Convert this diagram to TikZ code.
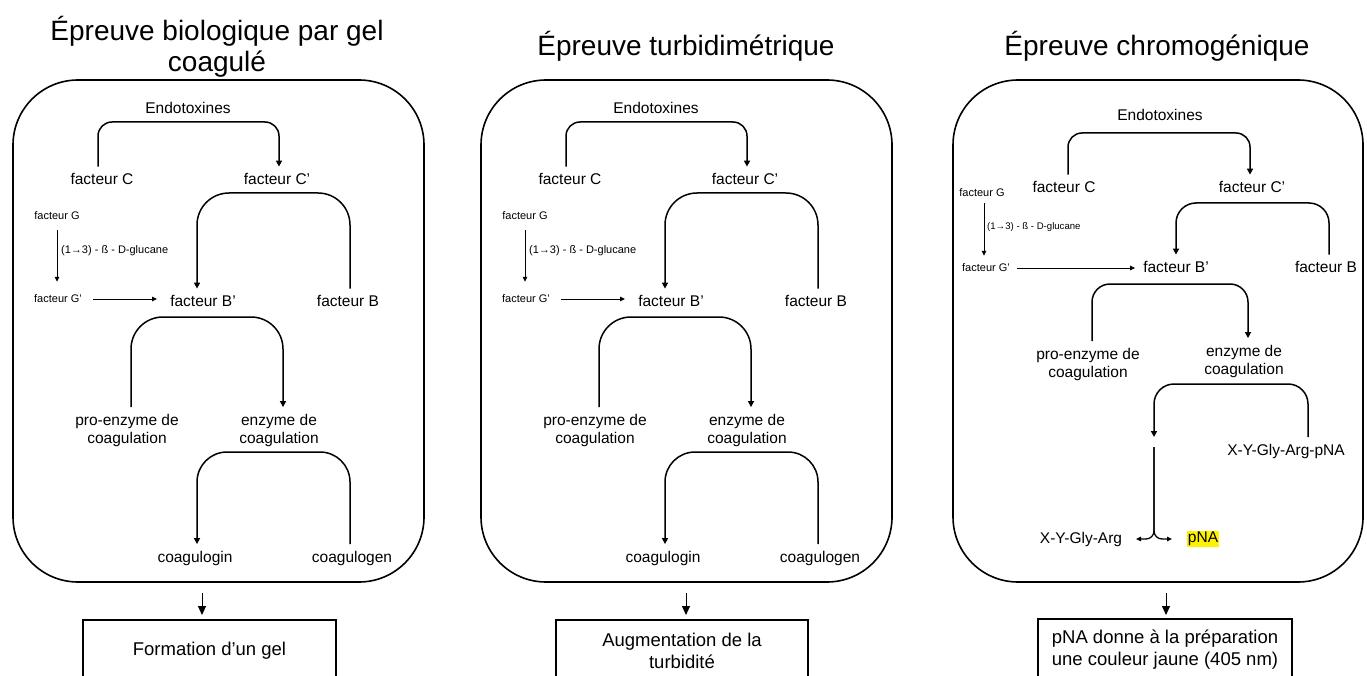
\documentclass[tikz,border=0pt]{standalone}
\usepackage{fontspec}
\setmainfont{Liberation Sans}
\usetikzlibrary{arrows.meta,calc}
\tikzset{
 lbl/.style={font=\fontsize{15.5}{18}\selectfont, inner xsep=2pt, inner ysep=6.5pt, align=center},
 slbl/.style={font=\fontsize{11}{13}\selectfont, inner sep=3pt},
 conn/.style={line width=1.5pt, -{Triangle[length=6pt,width=6pt]}},
 sconn/.style={line width=1.3pt, -{Triangle[length=5pt,width=4.5pt]}},
 plainln/.style={line width=1.5pt},
 thinarr/.style={line width=0.9pt, -{Triangle[length=5pt,width=4.5pt]}},
 pbox/.style={draw, line width=1.6pt, rounded corners=65pt, minimum width=411pt, minimum height=502pt, inner sep=0pt},
 res/.style={draw, line width=1.6pt, minimum width=253pt, minimum height=62pt, anchor=north, align=center, font=\fontsize{18.5}{22}\selectfont},
 ttl/.style={font=\fontsize{28}{31}\selectfont, align=center},
 darr/.style={line width=1pt, -{Triangle[length=9pt,width=8pt]}},
}
\newcommand\limpanel[2]{%
\begin{scope}[xshift=#2]
\node[pbox] (#1box) at (218.5,331) {};
\node[lbl] (#1endo) at (188,108) {Endotoxines};
\node[lbl] (#1C) at (102,179) {facteur C};
\node[lbl] (#1Cp) at (277,179) {facteur C’};
\coordinate (#1b1) at (188,122);
\draw[conn, rounded corners=14pt] ([xshift=-4pt]#1C.north) |- (#1b1) -| ([xshift=2pt]#1Cp.north);
\node[slbl] (#1G) at (57,216) {facteur G};
\node[slbl] (#1Gp) at (58,299) {facteur G’};
\node[slbl, anchor=west] (#1glu) at (58,251) {(1→3) - ß - D-glucane};
\draw[thinarr, shorten <=7pt, shorten >=10pt] (#1G.south) -- (#1G.south |- #1Gp.north);
\node[lbl] (#1Bp) at (203,301) {facteur B’};
\node[lbl] (#1B) at (348,301) {facteur B};
\draw[thinarr, shorten <=8pt, shorten >=11pt] (#1Gp.east) -- (#1Gp.east -| #1Bp.west);
\coordinate (#1b2) at (273,193);
\draw[conn, rounded corners=32pt] ([xshift=2pt]#1B.north) |- (#1b2) -| ([xshift=-6pt]#1Bp.north);
\node[lbl] (#1pro) at (127,430) {pro-enzyme de\\coagulation};
\node[lbl] (#1enz) at (279,430) {enzyme de\\coagulation};
\coordinate (#1b3) at (205,317);
\draw[conn, rounded corners=32pt] ([xshift=4pt]#1pro.north) |- (#1b3) -| ([xshift=4pt]#1enz.north);
\node[lbl] (#1gin) at (195,558) {coagulogin};
\node[lbl] (#1gen) at (352,558) {coagulogen};
\coordinate (#1b4) at (273,452);
\draw[conn, rounded corners=30pt] ([xshift=-2pt]#1gen.north) |- (#1b4) -| ([xshift=2pt]#1gin.north);
\end{scope}}
\begin{document}
\begin{tikzpicture}[x=1pt,y=-1pt]
\useasboundingbox (0,0) rectangle (1367,676);
\clip (0,0) rectangle (1367,676);
% titles
\node[ttl] (t1) at (217,47) {Épreuve biologique par gel\\coagulé};
\node[ttl] (t2) at (686,46) {Épreuve turbidimétrique};
\node[ttl] (t3) at (1157,46) {Épreuve chromogénique};
% panels 1 and 2
\limpanel{a}{0pt}
\limpanel{b}{468pt}
% panel 3
\node[pbox, minimum width=410pt] (cbox) at (1158,331) {};
\node[lbl] (cendo) at (1160,115) {Endotoxines};
\node[lbl] (cC) at (1064,187) {facteur C};
\node[lbl] (cCp) at (1252,187) {facteur C’};
\coordinate (cb1) at (1160,133);
\draw[conn, rounded corners=14pt] ([xshift=4pt]cC.north) |- (cb1) -| ([xshift=-2pt]cCp.north);
\node[slbl] (cG) at (982,193) {facteur G};
\node[slbl] (cGp) at (986,268) {facteur G’};
\node[slbl, anchor=west, font=\fontsize{9.6}{12}\selectfont] (cglu) at (984,227) {(1→3) - ß - D-glucane};
\coordinate (cGa) at ([xshift=2pt]cG.south);
\draw[thinarr, shorten <=3pt, shorten >=5pt] (cGa) -- (cGa |- cGp.north);
\node[lbl] (cBp) at (1176,267) {facteur B’};
\node[lbl] (cB) at (1326,267) {facteur B};
\draw[thinarr, shorten <=4pt, shorten >=6pt] (cGp.east) -- (cGp.east -| cBp.west);
\coordinate (cb2) at (1250,203);
\draw[conn, rounded corners=20pt] ([xshift=3pt]cB.north) |- (cb2) -| (cBp.north);
\node[lbl] (cpro) at (1088,364) {pro-enzyme de\\coagulation};
\node[lbl] (cenz) at (1244,361) {enzyme de\\coagulation};
\coordinate (cb3) at (1170,284);
\draw[conn, rounded corners=18pt] ([xshift=4pt]cpro.north) |- (cb3) -| ([xshift=4pt]cenz.north);
\node[lbl] (cxp) at (1286,451) {X-Y-Gly-Arg-pNA};
\coordinate (cj1) at (1154,437);
\coordinate (cj2) at (1154,447);
\coordinate (cb4) at (1231,384);
\draw[conn, rounded corners=20pt] ([xshift=22pt]cxp.north) |- (cb4) -| (cj1);
\node[lbl] (cxy) at (1081,539) {X-Y-Gly-Arg};
\node[font=\fontsize{15.5}{18}\selectfont, fill={rgb,255:red,255;green,242;blue,0}, inner xsep=0.6pt, inner ysep=1.3pt] (cpna) at (1203,539) {pNA};
\coordinate (ctl) at (1136,539);
\coordinate (ctr) at (1172,539);
\draw[sconn, rounded corners=8pt] (cj2) |- (ctl);
\draw[sconn, rounded corners=8pt] (cj2) |- (ctr);
% results
\node[res] (ar) at (209.5,619) {Formation d’un gel};
\node[res, minimum width=252pt] (br) at (682,619) {Augmentation de la\\turbidité};
\node[res, minimum width=254pt] (cr) at (1165,618) {pNA donne à la préparation\\une couleur jaune (405 nm)};
\coordinate (ad) at (202,593);
\coordinate (bd) at (686,593);
\coordinate (cd) at (1166,593);
\draw[darr, shorten >=4pt] (ad) -- (ad |- ar.north);
\draw[darr, shorten >=4pt] (bd) -- (bd |- br.north);
\draw[darr, shorten >=3pt] (cd) -- (cd |- cr.north);
\end{tikzpicture}
\end{document}
